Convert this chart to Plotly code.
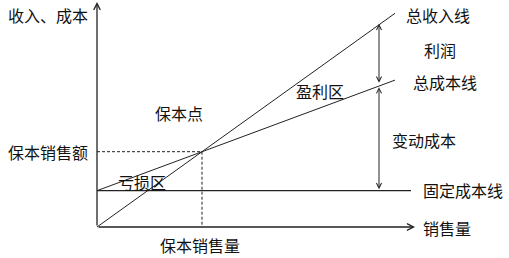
import plotly.graph_objects as go

# ---- data (units of the chart's own scale) ----
quantity = [0, 298]
total_revenue = [0, 213.7]
total_cost = [36.3, 146.9]
fixed_cost_x = [0, 314]
fixed_cost = [36.3, 36.3]
breakeven_q = 105
breakeven_amount = 75.3
axis_x_end = 318
axis_y_end = 225
arrow_q = 282
revenue_at_arrow = 202.2
cost_at_arrow = 141.3

labels = ["收入、成本", "总收入线", "利润", "总成本线", "盈利区", "保本点",
          "保本销售额", "亏损区", "保本销售量", "变动成本", "固定成本线", "销售量"]
label_pos = [(-91, 212), (307, 212), (325, 177), (314, 145), (197, 136.5), (56, 114),
             (-91, 75.3), (19, 45.5), (61, -18), (293, 87), (324, 37), (324, -1)]

LINE = "#222222"
FONT = dict(family="Noto Sans CJK SC, Microsoft YaHei, sans-serif", size=16, color="#111111")

fig = go.Figure()
fig.add_trace(go.Scatter(x=quantity, y=total_revenue, mode="lines",
                         line=dict(color=LINE, width=1), hoverinfo="skip"))
fig.add_trace(go.Scatter(x=quantity, y=total_cost, mode="lines",
                         line=dict(color=LINE, width=1), hoverinfo="skip"))
fig.add_trace(go.Scatter(x=fixed_cost_x, y=fixed_cost, mode="lines",
                         line=dict(color=LINE, width=1.2), hoverinfo="skip"))
# dashed guides to break-even point
fig.add_trace(go.Scatter(x=[0, breakeven_q, breakeven_q], y=[breakeven_amount, breakeven_amount, 0],
                         mode="lines", line=dict(color=LINE, width=1, dash="3px,2px"),
                         hoverinfo="skip"))

ann = []
def arrow(x0, y0, x1, y1, side="end", width=1.0):
    ann.append(dict(x=x1, y=y1, ax=x0, ay=y0, xref="x", yref="y", axref="x", ayref="y",
                    showarrow=True, arrowhead=5, startarrowhead=5, arrowsize=1,
                    startarrowsize=1, arrowwidth=width, arrowcolor=LINE,
                    arrowside=side, text=""))

# axes
arrow(0, 0, axis_x_end, 0, width=1.3)
arrow(0, 0, 0, axis_y_end, width=1.3)
# profit and variable cost arrows
arrow(arrow_q, cost_at_arrow + 1.5, arrow_q, revenue_at_arrow + 1, side="end+start")
arrow(arrow_q, fixed_cost[0], arrow_q, cost_at_arrow - 1.5, side="end+start")

for t, (x, y) in zip(labels, label_pos):
    ann.append(dict(x=x, y=y, xref="x", yref="y", text=t, showarrow=False,
                    xanchor="left", yanchor="middle", font=FONT))

fig.update_layout(
    width=509, height=258, margin=dict(l=0, r=0, t=0, b=0),
    paper_bgcolor="white", plot_bgcolor="white", showlegend=False,
    xaxis=dict(range=[-97, 412], visible=False, fixedrange=True),
    yaxis=dict(range=[-31, 227], visible=False, fixedrange=True),
    annotations=ann,
)
fig.write_html("out.html")
